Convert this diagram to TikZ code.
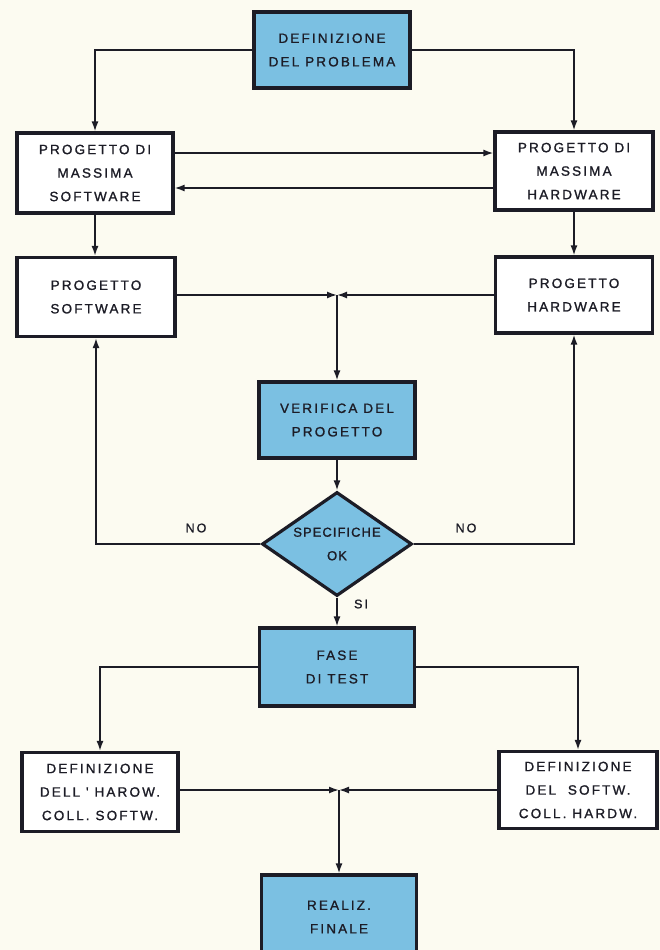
\documentclass[tikz,border=0pt]{standalone}
\usepackage{fontspec}
\newfontfamily\flowfont[LetterSpace=16,FakeBold=1.2]{Liberation Sans}
\newfontfamily\diafont[LetterSpace=8,FakeBold=1.2]{Liberation Sans}
\usetikzlibrary{arrows.meta,shapes.geometric}
\definecolor{paper}{HTML}{FCFBF1}
\definecolor{boxblue}{HTML}{7BC0E2}
\definecolor{ink}{HTML}{1C1C26}
\tikzset{
  x=1pt, y=-1pt,
  txt/.style={font={\fontsize{13.5}{23.5}\selectfont\flowfont}, text=ink, align=center},
  whitebox/.style={txt, draw=ink, line width=3.2pt, fill=white, minimum width=156pt, inner sep=0pt},
  bluebox/.style={whitebox, fill=boxblue},
  decision/.style={font={\fontsize{13}{23.5}\selectfont\diafont}, text=ink, align=center,
    diamond, draw=ink, line width=3.2pt, fill=boxblue, inner sep=0pt,
    minimum width=150pt, minimum height=104pt, aspect=1.45},
  conn/.style={draw=ink, line width=1.6pt},
  arr/.style={conn, -{Latex[length=10pt,width=7pt]}},
  lbl/.style={font={\fontsize{12.5}{14}\selectfont\flowfont}, text=ink}
}
\begin{document}
\begin{tikzpicture}
\useasboundingbox (0,0) rectangle (660,950);
\clip (0,0) rectangle (660,950);
\fill[paper] (0,0) rectangle (660,950);

\node[bluebox, minimum height=76pt] (def) at (332,50) {DEFINIZIONE\\DEL PROBLEMA};
\node[whitebox, minimum height=80pt] (pms) at (95,173) {PROGETTO DI\\MASSIMA\\SOFTWARE};
\node[whitebox, minimum height=78pt, minimum width=158pt] (pmh) at (574,171) {PROGETTO DI\\MASSIMA\\HARDWARE};
\node[whitebox, minimum height=79pt, minimum width=158pt] (ps) at (96,297) {PROGETTO\\SOFTWARE};
\node[whitebox, minimum height=76pt, minimum width=157pt] (ph) at (574,295) {PROGETTO\\HARDWARE};
\node[bluebox, minimum height=76pt] (ver) at (337,420) {VERIFICA DEL\\PROGETTO};
\node[decision] (dia) at (337,544) {SPECIFICHE\\OK};
\node[bluebox, minimum height=78pt, minimum width=155pt] (fase) at (337,667) {FASE\\DI TEST};
\node[whitebox, minimum height=79pt] (dl) at (100,792) {DEFINIZIONE\\DELL ' HAROW.\\COLL. SOFTW.};
\node[whitebox, minimum height=77pt, minimum width=158pt] (dr) at (578,790) {DEFINIZIONE\\DEL \ SOFTW.\\COLL. HARDW.};
\node[bluebox, minimum height=84pt, minimum width=155pt] (real) at (339,917) {REALIZ.\\FINALE};

% top
\draw[arr] (def.west) -| (pms.north);
\draw[arr] (def.east) -| (pmh.north);
\draw[arr] ([yshift=20pt]pms.east) -- ([yshift=20pt]pms.east -| pmh.west);
\draw[arr] ([yshift=-15pt]pms.east -| pmh.west) -- ([yshift=-15pt]pms.east);
\draw[arr] (pms.south) -- (pms.south |- ps.north);
\draw[arr] (pmh.south) -- (pmh.south |- ph.north);

% merge to verifica
\coordinate (j1) at (ver.north |- ph.west);
\draw[arr] (ps.east |- j1) -- (j1);
\draw[arr] (ph.west) -- (j1);
\draw[arr] (j1) -- (ver.north);
\draw[arr] (ver.south) -- (dia.north);

% decision
\draw[arr] (dia.west) -| (ps.south);
\draw[arr] (dia.east) -| (ph.south);
\node[lbl] (no1) at (196,528) {NO};
\node[lbl] (no2) at (466,528) {NO};
\draw[arr] (dia.south) -- (fase.north);
\node[lbl] (si) at (361,604) {SI};

% test phase
\draw[arr] (fase.west) -| (dl.north);
\draw[arr] (fase.east) -| (dr.north);
\coordinate (j2) at (real.north |- dr.west);
\draw[arr] (dl.east |- j2) -- (j2);
\draw[arr] (dr.west) -- (j2);
\draw[arr] (j2) -- (real.north);
\end{tikzpicture}
\end{document}
